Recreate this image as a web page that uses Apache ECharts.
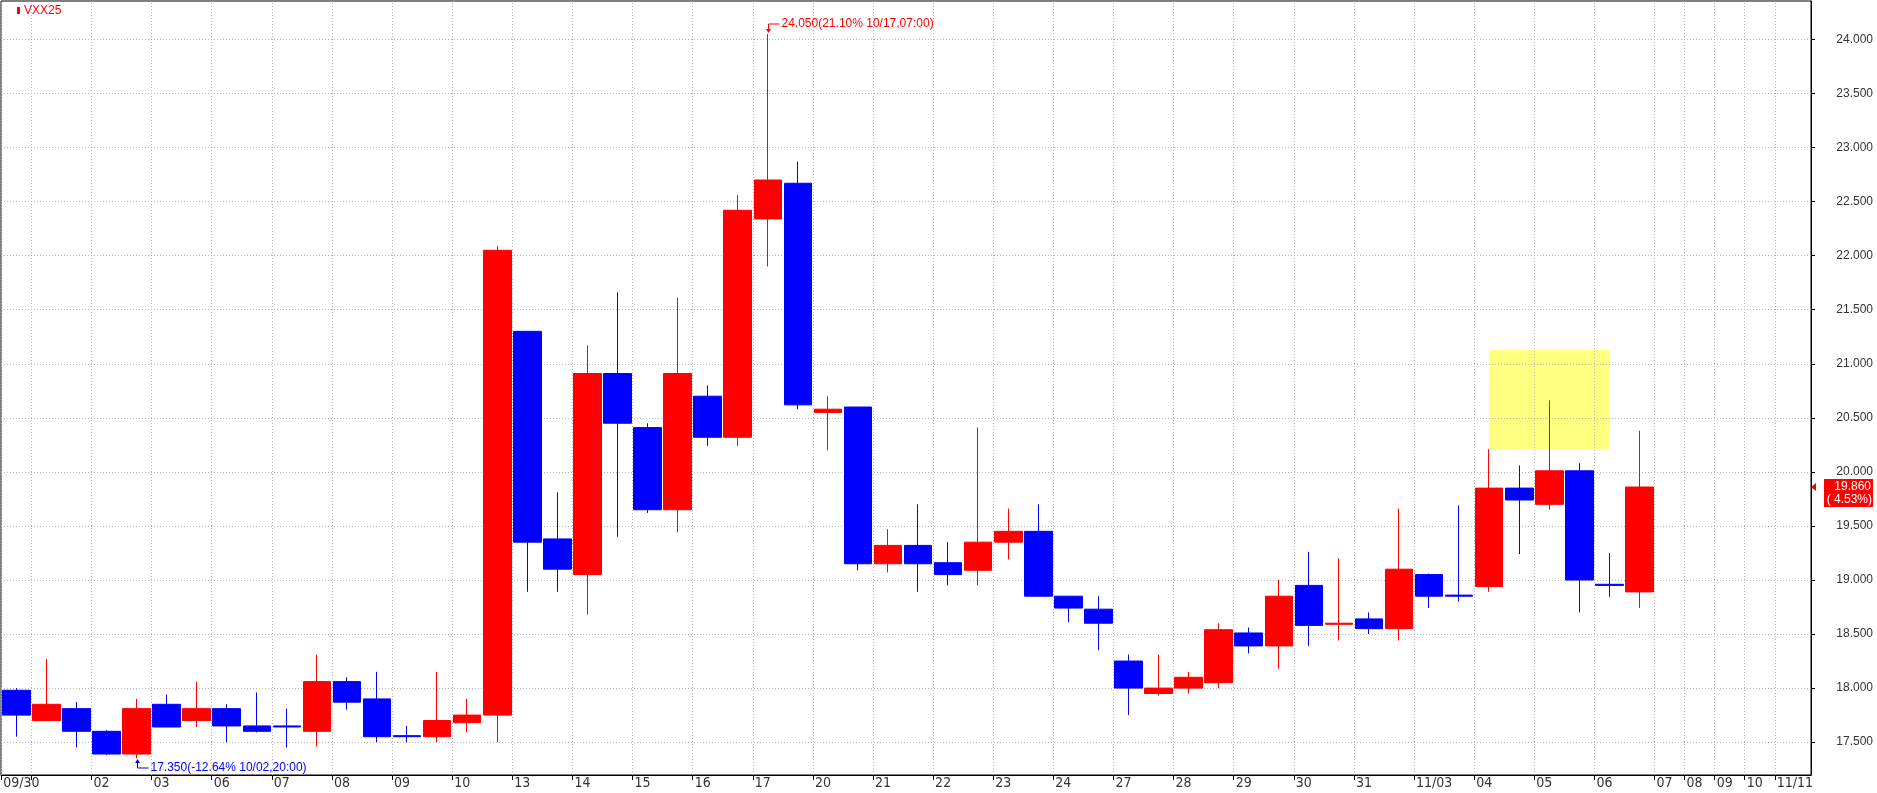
<!DOCTYPE html>
<html><head><meta charset="utf-8">
<script src="https://cdn.jsdelivr.net/npm/echarts@6/dist/echarts.min.js"></script>
<style>html,body{margin:0;padding:0;background:#fff;overflow:hidden}#c{width:1877px;height:793px}</style>
</head><body><div id="c"></div>
<script>
// ---------------- data ----------------
const symbolName = 'VXX25';
const times = [
  '09/30 20:00',
  '10/01 07:00','10/01 20:00','10/02 07:00','10/02 20:00','10/03 07:00','10/03 20:00',
  '10/06 07:00','10/06 20:00','10/07 07:00','10/07 20:00','10/08 07:00','10/08 20:00',
  '10/09 07:00','10/09 20:00','10/10 07:00','10/10 20:00','10/13 07:00','10/13 20:00',
  '10/14 07:00','10/14 20:00','10/15 07:00','10/15 20:00','10/16 07:00','10/16 20:00',
  '10/17 07:00','10/17 20:00','10/20 07:00','10/20 20:00','10/21 07:00','10/21 20:00',
  '10/22 07:00','10/22 20:00','10/23 07:00','10/23 20:00','10/24 07:00','10/24 20:00',
  '10/27 07:00','10/27 20:00','10/28 07:00','10/28 20:00','10/29 07:00','10/29 20:00',
  '10/30 07:00','10/30 20:00','10/31 07:00','10/31 20:00','11/03 07:00','11/03 20:00',
  '11/04 07:00','11/04 20:00','11/05 07:00','11/05 20:00','11/06 07:00','11/06 20:00'
];
const opens  = [17.98,17.70,17.81,17.60,17.39,17.85,17.70,17.81,17.65,17.65,17.60,18.06,17.90,17.56,17.55,17.68,17.75,21.30,19.38,19.05,20.91,20.41,19.65,20.70,20.32,22.34,22.67,20.55,20.60,19.15,19.32,19.16,19.09,19.35,19.45,18.85,18.73,18.25,17.95,18.00,18.05,18.51,18.39,18.95,18.59,18.64,18.55,19.05,18.86,18.94,19.85,19.70,20.01,18.96,18.89];
const closes = [17.75,17.85,17.60,17.39,17.81,17.64,17.81,17.65,17.60,17.64,18.06,17.87,17.55,17.55,17.70,17.75,22.05,19.35,19.10,20.91,20.45,19.65,20.91,20.32,22.42,22.70,20.62,20.58,19.15,19.32,19.15,19.05,19.35,19.45,18.85,18.74,18.60,18.00,18.00,18.10,18.54,18.39,18.85,18.58,18.60,18.55,19.10,18.85,18.85,19.85,19.74,20.01,19.00,18.95,19.86];
const lows   = [17.55,17.70,17.45,17.38,17.35,17.64,17.64,17.50,17.59,17.45,17.46,17.80,17.50,17.50,17.50,17.59,17.50,18.89,18.89,18.68,19.40,19.62,19.44,20.24,20.24,21.90,20.58,20.20,19.09,19.07,18.89,18.95,18.95,19.19,18.85,18.61,18.35,17.75,17.93,17.95,18.00,18.32,18.18,18.39,18.44,18.50,18.44,18.74,18.80,18.89,19.24,19.65,18.70,18.845,18.74];
const highs  = [18.00,18.27,17.87,17.61,17.90,17.94,18.06,17.85,17.96,17.81,18.31,18.10,18.15,17.65,18.15,17.90,22.09,21.30,19.81,21.17,21.66,20.45,21.61,20.80,22.56,24.05,22.87,20.70,20.60,19.47,19.70,19.35,20.41,19.66,19.70,18.85,18.85,18.31,18.31,18.15,18.60,18.56,19.00,19.26,19.20,18.70,19.66,19.06,19.69,20.21,20.06,20.66,20.08,19.25,20.38];
const futureDays = ['11/07','11/08','11/09','11/10','11/11'];
const yTickValues = [17.5,18.0,18.5,19.0,19.5,20.0,20.5,21.0,21.5,22.0,22.5,23.0,23.5,24.0];
const highlightX = [49, 53];
const highlightY = [20.21, 21.13];

// ---------------- derived ----------------
const ohlc = times.map((t, i) => [i, opens[i], closes[i], lows[i], highs[i]]);
const dayTicks = [];
let prevDate = null;
times.forEach((t, i) => {
  const d = t.split(' ')[0];
  if (d !== prevDate) { dayTicks.push({ pos: i - 0.5, date: d }); prevDate = d; }
});
futureDays.forEach((d, k) => dayTicks.push({ pos: times.length - 0.5 + k, date: d }));
dayTicks.forEach((tk, k) => {
  const prev = dayTicks[k - 1];
  const full = k === 0 || k === dayTicks.length - 1 || prev.date.slice(0, 2) !== tk.date.slice(0, 2);
  tk.text = full ? tk.date : tk.date.slice(3);
});
dayTicks.forEach((tk, k) => {
  const prev = dayTicks[k - 1];
  tk.show = !(prev && prev.show && prev.text.length > 2 && tk.pos - prev.pos < 1.5);
});
const xTickValues = dayTicks.map(t => t.pos);
function xLabel(v) {
  const tk = dayTicks.find(t => Math.abs(t.pos - v) < 1e-6);
  return tk && tk.show ? tk.text : '';
}

// extremes for annotations
let hiIdx = 0, loIdx = 0;
highs.forEach((h, i) => { if (h > highs[hiIdx]) hiIdx = i; });
lows.forEach((l, i) => { if (l < lows[loIdx]) loIdx = i; });
const lastIdx = closes.length - 1;
const lastClose = closes[lastIdx];
const prevDayClose = closes[lastIdx - 2];

const RED = '#ff0000', BLUE = '#0000ff';
const GRIDC = '#b8b8b8';
const xMin = -0.509, xMax = 59.705;
const yMin = 17.196, yMax = 24.356;

const chart = echarts.init(document.getElementById('c'), null, { renderer: 'canvas' });
chart.setOption({
  animation: false,
  backgroundColor: '#ffffff',
  grid: { left: 1, top: 1, right: 66, bottom: 18, show: true, borderColor: '#000', borderWidth: 1, backgroundColor: 'transparent' },
  xAxis: {
    type: 'value', min: xMin, max: xMax,
    axisLine: { show: true, onZero: false, lineStyle: { color: '#000', width: 1 } },
    axisTick: { show: true, length: 5, customValues: xTickValues, lineStyle: { color: '#000' } },
    axisLabel: {
      customValues: xTickValues, formatter: xLabel, align: 'left', margin: 1,
      padding: [0, 0, 0, 2], color: '#333',
      fontFamily: "'Liberation Sans Narrow','DejaVu Sans Condensed','Liberation Sans'", fontSize: 14
    },
    splitLine: { show: false }
  },
  yAxis: {
    type: 'value', position: 'right', min: yMin, max: yMax, scale: true,
    axisLine: { show: true, onZero: false, lineStyle: { color: '#000', width: 1 } },
    axisTick: { show: true, length: 4, customValues: yTickValues, lineStyle: { color: '#000' } },
    axisLabel: {
      customValues: yTickValues, formatter: v => v.toFixed(3), align: 'right', margin: 62,
      color: '#333', fontFamily: "'Liberation Sans'", fontSize: 12
    },
    splitLine: { show: false }
  },
  series: [
    {
      type: 'line', data: [], z: 1, silent: true,
      markArea: {
        silent: true, z: 1,
        itemStyle: { color: '#ffff80', opacity: 1 },
        data: [[{ xAxis: highlightX[0], yAxis: highlightY[1] }, { xAxis: highlightX[1], yAxis: highlightY[0] }]]
      }
    },
    {
      type: 'line', data: [], z: 2, silent: true,
      markLine: {
        silent: true, z: 2, symbol: ['none', 'none'], animation: false,
        label: { show: false },
        lineStyle: { color: GRIDC, width: 1, type: [1, 2] },
        emphasis: { disabled: true },
        data: xTickValues.map(v => ({ xAxis: v })).concat(yTickValues.map(v => ({ yAxis: v })))
      }
    },
    {
      type: 'candlestick', z: 5, barWidth: 28,
      encode: { x: 0, y: [1, 2, 3, 4] },
      data: ohlc,
      itemStyle: { color: RED, color0: BLUE, borderColor: RED, borderColor0: BLUE, borderWidth: 1 }
    }
  ]
});

// ---------------- annotations ----------------
const P = (x, y) => chart.convertToPixel({ xAxisIndex: 0, yAxisIndex: 0 }, [x, y]);
const pct = (v, ref) => ((v - ref) / ref * 100).toFixed(2);
const hp = P(hiIdx, highs[hiIdx]);
const lp = P(loIdx, lows[loIdx]);
const cp = P(xMax, lastClose);
const fmtTime = t => t.replace(' ', ',');
const hiText = highs[hiIdx].toFixed(3) + '(' + pct(highs[hiIdx], lastClose) + '% ' + fmtTime(times[hiIdx]) + ')';
const loText = lows[loIdx].toFixed(3) + '(' + pct(lows[loIdx], lastClose) + '% ' + fmtTime(times[loIdx]) + ')';
const chg = (lastClose - prevDayClose) / prevDayClose * 100;
const chgText = '(' + (chg >= 0 ? ' ' : '') + chg.toFixed(2) + '%)';
const FONT = "12px 'Liberation Sans'";
const hx = Math.round(hp[0]) + 0.5, hy = Math.round(hp[1]);
const lx = Math.round(lp[0]) + 0.5, ly = Math.round(lp[1]);
const cy = Math.round(cp[1]);
chart.setOption({
  graphic: [
    { type: 'rect', shape: { x: 17, y: 7, width: 3, height: 7 }, style: { fill: RED }, z: 100 },
    { type: 'text', x: 24, y: 11, style: { text: symbolName, fill: RED, font: "12px 'Liberation Sans Narrow','Liberation Sans'", verticalAlign: 'middle' }, z: 100 },
    // high marker
    { type: 'polyline', shape: { points: [[hx, hy - 4], [hx, hy - 10], [hx + 11, hy - 10]] }, style: { stroke: RED, lineWidth: 1, fill: null }, z: 100 },
    { type: 'polygon', shape: { points: [[hx - 2.5, hy - 5], [hx + 2.5, hy - 5], [hx, hy - 1]] }, style: { fill: RED }, z: 100 },
    { type: 'text', x: hx + 13, y: hy - 10, style: { text: hiText, fill: RED, font: FONT, verticalAlign: 'middle' }, z: 100 },
    // low marker
    { type: 'polyline', shape: { points: [[lx, ly + 4], [lx, ly + 10], [lx + 11, ly + 10]] }, style: { stroke: BLUE, lineWidth: 1, fill: null }, z: 100 },
    { type: 'polygon', shape: { points: [[lx - 2.5, ly + 5], [lx + 2.5, ly + 5], [lx, ly + 1]] }, style: { fill: BLUE }, z: 100 },
    { type: 'text', x: lx + 13, y: ly + 10, style: { text: loText, fill: BLUE, font: FONT, verticalAlign: 'middle' }, z: 100 },
    // last price tag
    { type: 'polygon', shape: { points: [[cp[0], cy], [cp[0] + 5, cy - 4], [cp[0] + 5, cy + 4]] }, style: { fill: RED }, z: 100 },
    { type: 'rect', shape: { x: cp[0] + 13, y: cy - 8, width: 49, height: 28 }, style: { fill: RED }, z: 100 },
    { type: 'text', x: cp[0] + 60, y: cy, style: { text: lastClose.toFixed(3), fill: '#fff', font: FONT, align: 'right', verticalAlign: 'middle' }, z: 101 },
    { type: 'text', x: cp[0] + 61, y: cy + 13, style: { text: chgText, fill: '#fff', font: FONT, align: 'right', verticalAlign: 'middle' }, z: 101 }
  ]
});
</script>
</body></html>
